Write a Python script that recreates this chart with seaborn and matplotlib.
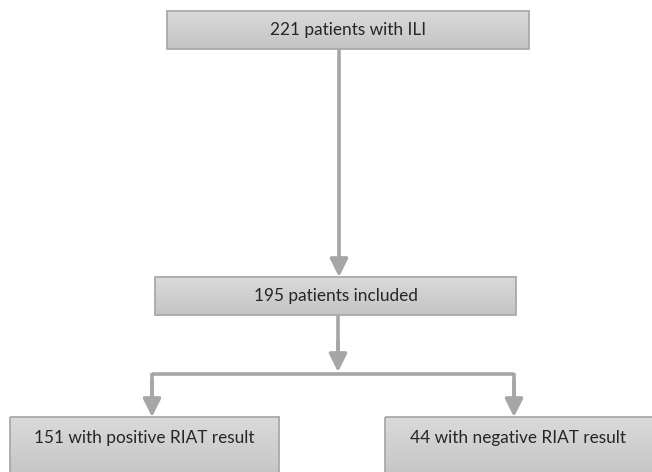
import numpy as np
import matplotlib
matplotlib.use("Agg")
import matplotlib.pyplot as plt
from matplotlib.patches import Rectangle
from matplotlib.colors import LinearSegmentedColormap
import seaborn as sns

# ---- data (flowchart content) ----
node_labels = ["221 patients with ILI", "195 patients included",
               "151 with positive RIAT result", "44 with negative RIAT result"]
node_counts = [221, 195, 151, 44]
# edges: (from node, to node)
edges = [(0, 1), (1, 2), (1, 3)]

sns.set_theme(style="white")
plt.rcParams['font.family'] = ['Lato', 'DejaVu Sans']

W, H = 652, 472
fig = plt.figure(figsize=(W / 100, H / 100), dpi=100)
ax = fig.add_axes([0, 0, 1, 1])
ax.set_xlim(0, W)
ax.set_ylim(H, 0)
ax.axis("off")

# layout: (x0, y0, x1, y1) in pixel coordinates, text y
boxes = [(167, 11, 529, 49), (155, 277, 516, 315),
         (10, 417, 279, 480), (385, 417, 660, 480)]
text_y = [30, 296, 438, 438]

grad = np.linspace(0, 1, 100).reshape(-1, 1)
cmap = LinearSegmentedColormap.from_list("g", ["#dadada", "#c4c4c4"])

for (x0, y0, x1, y1), lab, ty in zip(boxes, node_labels, text_y):
    rect = Rectangle((x0, y0), x1 - x0, y1 - y0, facecolor="none",
                     edgecolor="#a9a9a9", lw=1.3, zorder=3)
    ax.add_patch(rect)
    im = ax.imshow(grad, cmap=cmap, aspect="auto", zorder=2, origin="upper",
                   extent=(x0, x1, y1, y0))
    im.set_clip_path(rect)
    ax.text((x0 + min(x1, W)) / 2, ty, lab, ha="center", va="center",
            fontsize=12.4, color="#262626", zorder=4)

acol = "#a6a6a6"
lw = 2.6

def arrow(x, ya, yb):
    ax.annotate("", xy=(x, yb), xytext=(x, ya),
                arrowprops=dict(arrowstyle="-|>,head_length=0.9,head_width=0.45",
                                color=acol, lw=lw, shrinkA=0, shrinkB=0),
                zorder=1)

# edge 0 -> 1
arrow(339, 49, 277)
# edge 1 -> children
ax.plot([338, 338], [315, 362], color=acol, lw=lw, solid_capstyle="butt")
arrow(338, 340, 372)
ax.plot([152, 514], [374, 374], color=acol, lw=lw, solid_capstyle="butt")
ax.plot([152, 152], [373, 400], color=acol, lw=lw, solid_capstyle="butt")
ax.plot([514, 514], [373, 400], color=acol, lw=lw, solid_capstyle="butt")
arrow(152, 380, 417)
arrow(514, 380, 417)

fig.savefig("out.png", dpi=100)
